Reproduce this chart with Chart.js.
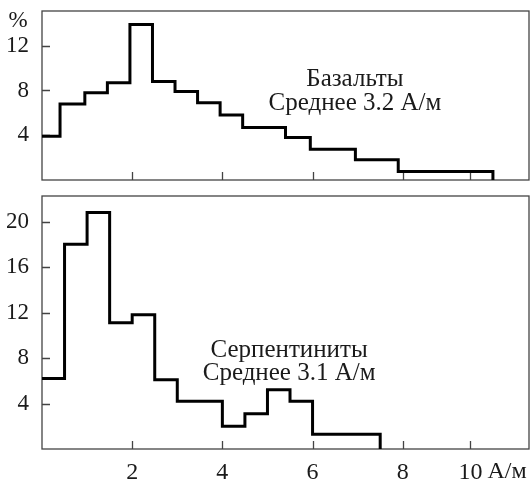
<!DOCTYPE html>
<html>
<head>
<meta charset="utf-8">
<script src="https://cdn.jsdelivr.net/npm/chart.js@4.4.0/dist/chart.umd.min.js"></script>
<style>
  html, body { margin: 0; padding: 0; background: #fff; }
  #wrap { position: relative; width: 531px; height: 481px; }
  .box { position: absolute; left: 0; width: 531px; }
</style>
</head>
<body>
<div id="wrap">
  <div class="box" style="top:0;height:185px"><canvas id="basaltChart"></canvas></div>
  <div class="box" style="top:185px;height:296px"><canvas id="serpChart"></canvas></div>
</div>
<script>
// bin edges (A/m) and share of samples (%)
const basaltEdges = [0, 0.4, 0.95, 1.45, 1.95, 2.45, 2.95, 3.45, 3.95, 4.45, 5.4, 5.95, 6.95, 7.9, 10];
const basaltPercent = [3.9, 6.8, 7.8, 8.7, 13.9, 8.8, 7.9, 6.9, 5.8, 4.7, 3.8, 2.75, 1.8, 0.77];

const serpEdges = [0, 0.5, 1, 1.5, 2, 2.5, 3, 4, 4.5, 5, 5.5, 6, 7.5];
const serpPercent = [6.2, 18.0, 20.8, 11.1, 11.8, 6.1, 4.2, 2.0, 3.1, 5.2, 4.2, 1.3];

// the "10" tick sits short of 10 in the original drawing
const xTickValues = [2, 4, 6, 8, 9.5];
const xTickLabels = ['2', '4', '6', '8', '10'];
const xUnit = 'А/м';
const basaltYTicks = [4, 8, 12];
const serpYTicks = [4, 8, 12, 16, 20];

const FONT = '"Liberation Serif", "Times New Roman", serif';
const INK = '#1a1a1a';

function stepPoints(edges, values) {
    const pts = values.map((v, i) => ({ x: edges[i], y: v }));
    pts.push({ x: edges[edges.length - 1], y: 0 });
    return pts;
}

// box, inward ticks and captions
const framePlugin = {
    id: 'frame',
    beforeDatasetsDraw(chart, args, opts) {
        const { ctx, chartArea: a, scales: { x, y } } = chart;
        ctx.save();
        ctx.strokeStyle = '#444';
        ctx.lineWidth = 1.3;
        ctx.strokeRect(a.left, a.top, a.right - a.left, a.bottom - a.top);
        ctx.beginPath();
        xTickValues.forEach((v) => {
            const px = Math.round(x.getPixelForValue(v)) + 0.5;
            ctx.moveTo(px, a.bottom);
            ctx.lineTo(px, a.bottom - 8);
        });
        opts.yTicks.forEach((v) => {
            const py = Math.round(y.getPixelForValue(v)) + 0.5;
            ctx.moveTo(a.left, py);
            ctx.lineTo(a.left + 8, py);
        });
        ctx.stroke();
        ctx.restore();
    },
    afterDraw(chart, args, opts) {
        const { ctx, chartArea: a, scales: { x, y } } = chart;
        ctx.save();
        ctx.fillStyle = INK;
        ctx.font = '25px ' + FONT;
        ctx.textBaseline = 'alphabetic';
        ctx.textAlign = 'center';
        opts.notes.forEach((n) => {
            ctx.fillText(n.text, x.getPixelForValue(n.x), y.getPixelForValue(n.y));
        });
        ctx.font = '23px ' + FONT;
        if (opts.percent) {
            ctx.fillText('%', a.left - 24, a.top + 16);
        }
        if (opts.unit) {
            ctx.font = '24px ' + FONT;
            const last = xTickValues[xTickValues.length - 1];
            const w = ctx.measureText(xTickLabels[xTickLabels.length - 1]).width;
            ctx.textAlign = 'left';
            ctx.textBaseline = 'top';
            ctx.fillText(xUnit, x.getPixelForValue(last) + w / 2 + 5, a.bottom + 11);
        }
        ctx.restore();
    }
};

function makeChart(id, edges, values, yMax, yTicks, showX, extra) {
    return new Chart(document.getElementById(id), {
        type: 'line',
        data: {
            datasets: [{
                data: stepPoints(edges, values),
                stepped: true,
                borderColor: '#000',
                borderWidth: 3,
                pointRadius: 0,
                fill: false,
                clip: false
            }]
        },
        options: {
            responsive: true,
            maintainAspectRatio: false,
            animation: false,
            layout: { padding: { top: 11, right: 2, left: 0, bottom: showX ? 0 : 5 } },
            plugins: {
                legend: { display: false },
                tooltip: { enabled: false },
                frame: Object.assign({ yTicks: yTicks }, extra)
            },
            scales: {
                x: {
                    type: 'linear',
                    min: 0,
                    max: 10.8,
                    display: showX,
                    afterFit(s) {
                        s.height = showX ? 32 : 0;
                        s.paddingLeft = 0;
                        s.paddingRight = 0;
                    },
                    afterBuildTicks(s) { s.ticks = xTickValues.map((v) => ({ value: v })); },
                    grid: { display: false, drawTicks: false },
                    border: { display: false },
                    ticks: {
                        padding: 9,
                        color: INK,
                        maxRotation: 0,
                        font: { family: FONT, size: 24 },
                        callback: (v, i) => xTickLabels[i]
                    }
                },
                y: {
                    min: 0,
                    max: yMax,
                    afterFit(s) {
                        s.width = 42;
                        s.paddingTop = 0;
                        s.paddingBottom = 0;
                    },
                    afterBuildTicks(s) { s.ticks = yTicks.map((v) => ({ value: v })); },
                    grid: { display: false, drawTicks: false },
                    border: { display: false },
                    ticks: {
                        padding: 13,
                        color: INK,
                        font: { family: FONT, size: 23 }
                    }
                }
            }
        },
        plugins: [framePlugin]
    });
}

makeChart('basaltChart', basaltEdges, basaltPercent, 15.1, basaltYTicks, false, {
    percent: true,
    notes: [
        { text: 'Базальты', x: 6.94, y: 8.4 },
        { text: 'Среднее 3.2 А/м', x: 6.94, y: 6.25 }
    ]
});

makeChart('serpChart', serpEdges, serpPercent, 22.25, serpYTicks, true, {
    unit: true,
    notes: [
        { text: 'Серпентиниты', x: 5.48, y: 8.1 },
        { text: 'Среднее 3.1 А/м', x: 5.48, y: 6.07 }
    ]
});
</script>
</body>
</html>
